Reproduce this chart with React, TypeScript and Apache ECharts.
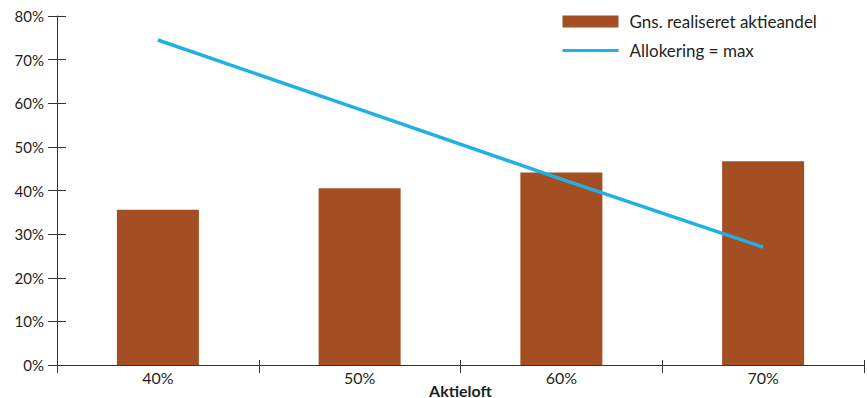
import React, { useEffect, useRef } from "react";
import * as echarts from "echarts";

const categories = ["40%", "50%", "60%", "70%"];
const realisedShare = [35.6, 40.5, 44.1, 46.7];
const allocationMax = [74.5, 58.6, 42.6, 27.0];
const yTicks = [0, 10, 20, 30, 40, 50, 60, 70, 80];

const FONT = "Lato, 'Open Sans', sans-serif";
const TEXT = "#231f20";

export default function App() {
  const ref = useRef<HTMLDivElement>(null);
  useEffect(() => {
    if (!ref.current) return;
    const chart = echarts.init(ref.current, undefined, { renderer: "svg" });
    const yMax = yTicks[yTicks.length - 1];
    const yBase = {
      type: "value" as const,
      min: 0,
      max: yMax,
      interval: 10,
      splitLine: { show: false },
    };
    const xBase = {
      type: "category" as const,
      data: categories,
      boundaryGap: true,
    };
    chart.setOption({
      animation: false,
      grid: { left: 57, right: 3, top: 16, bottom: 33, containLabel: false, outerBoundsMode: "none" },
      legend: {
        orient: "vertical",
        left: 561,
        top: 13,
        padding: 0,
        itemWidth: 56,
        itemHeight: 12,
        itemGap: 12,
        textStyle: { fontFamily: FONT, fontSize: 17, lineHeight: 17, color: TEXT, padding: [0, 0, 0, 6] },
        data: [
          { name: "Gns. realiseret aktieandel", icon: "rect" },
          { name: "Allokering = max", itemStyle: { opacity: 0 }, lineStyle: { width: 3 } },
        ],
      },
      xAxis: [
        {
          ...xBase,
          name: "Aktieloft",
          nameLocation: "middle",
          nameGap: 17,
          nameMoveOverlap: false,
          nameTextStyle: { fontFamily: FONT, fontSize: 16, fontWeight: "bold", color: TEXT },
          axisLine: { show: true, lineStyle: { color: "#333", width: 1 } },
          axisTick: { show: true, length: 8, lineStyle: { color: "#333" } },
          axisLabel: { fontFamily: FONT, fontSize: 16, color: TEXT, margin: 4 },
        },
        {
          ...xBase,
          position: "bottom",
          axisLine: { show: false },
          axisTick: { show: true, inside: true, length: 5, lineStyle: { color: "#333" } },
          axisLabel: { show: false },
        },
      ],
      yAxis: [
        {
          ...yBase,
          axisLine: { show: true, lineStyle: { color: "#333", width: 1 } },
          axisTick: { show: true, length: 9, lineStyle: { color: "#333" } },
          axisLabel: {
            fontFamily: FONT,
            fontSize: 15,
            color: TEXT,
            margin: 13,
            formatter: (v: number) => v + "%",
          },
        },
        {
          ...yBase,
          position: "left",
          axisLine: { show: false },
          axisTick: { show: true, inside: true, length: 9, lineStyle: { color: "#333" } },
          axisLabel: { show: false },
        },
      ],
      series: [
        {
          name: "Gns. realiseret aktieandel",
          type: "bar",
          data: realisedShare,
          barWidth: 82,
          itemStyle: { color: "#a34f23" },
        },
        {
          name: "Allokering = max",
          type: "line",
          data: allocationMax,
          symbol: "none",
          lineStyle: { color: "#1db1e6", width: 3.5 },
          itemStyle: { color: "#1db1e6" },
        },
      ],
    });
    return () => chart.dispose();
  }, []);
  return <div ref={ref} style={{ width: 867, height: 398, position: "fixed", left: 0, top: 0, background: "#fff" }} />;
}
